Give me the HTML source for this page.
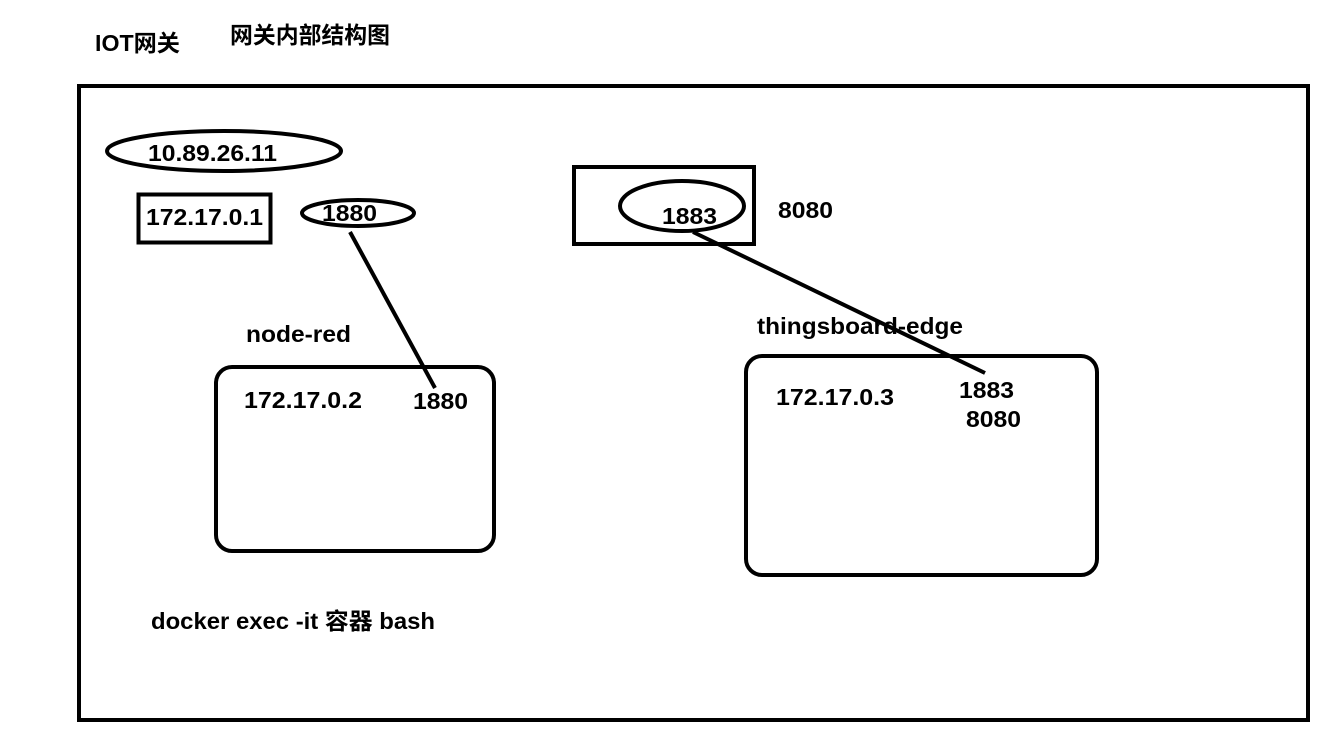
<!DOCTYPE html>
<html><head><meta charset="utf-8"><style>
html,body{margin:0;padding:0;background:#fff;}
svg{display:block;}
text{font-family:"Liberation Sans","Noto Sans CJK SC",sans-serif;font-weight:bold;fill:#000;font-size:23px;}
</style></head><body>
<svg width="1344" height="736" viewBox="0 0 1344 736" xmlns="http://www.w3.org/2000/svg">
<g fill="none" stroke="#000">
<rect x="79" y="86" width="1229" height="634" stroke-width="4"/>
<ellipse cx="224" cy="151" rx="117" ry="20" stroke-width="4"/>
<rect x="138.5" y="194.5" width="132" height="48" stroke-width="4"/>
<ellipse cx="358" cy="213" rx="56" ry="13" stroke-width="4"/>
<line x1="350" y1="232" x2="435" y2="388" stroke-width="4"/>
<rect x="216" y="367" width="278" height="184" rx="16" stroke-width="4"/>
<rect x="574" y="167" width="180" height="77" stroke-width="4"/>
<ellipse cx="682" cy="206" rx="62" ry="25" stroke-width="4"/>
<line x1="693" y1="232" x2="985" y2="373" stroke-width="4"/>
<rect x="746" y="356" width="351" height="219" rx="16" stroke-width="4"/>
</g>
<text x="95" y="51" textLength="85" lengthAdjust="spacingAndGlyphs">IOT网关</text>
<text x="230" y="43" textLength="160" lengthAdjust="spacingAndGlyphs">网关内部结构图</text>
<text x="148" y="161" textLength="129" lengthAdjust="spacingAndGlyphs">10.89.26.11</text>
<text x="146" y="225" textLength="117" lengthAdjust="spacingAndGlyphs">172.17.0.1</text>
<text x="322" y="221" textLength="55" lengthAdjust="spacingAndGlyphs">1880</text>
<text x="246" y="342" textLength="105" lengthAdjust="spacingAndGlyphs">node-red</text>
<text x="244" y="408" textLength="118" lengthAdjust="spacingAndGlyphs">172.17.0.2</text>
<text x="413" y="409" textLength="55" lengthAdjust="spacingAndGlyphs">1880</text>
<text x="662" y="224" textLength="55" lengthAdjust="spacingAndGlyphs">1883</text>
<text x="778" y="218" textLength="55" lengthAdjust="spacingAndGlyphs">8080</text>
<text x="757" y="334" textLength="206" lengthAdjust="spacingAndGlyphs">thingsboard-edge</text>
<text x="776" y="405" textLength="118" lengthAdjust="spacingAndGlyphs">172.17.0.3</text>
<text x="959" y="398" textLength="55" lengthAdjust="spacingAndGlyphs">1883</text>
<text x="966" y="427" textLength="55" lengthAdjust="spacingAndGlyphs">8080</text>
<text x="151" y="629" textLength="284" lengthAdjust="spacingAndGlyphs">docker exec -it 容器 bash</text>
</svg>
</body></html>
